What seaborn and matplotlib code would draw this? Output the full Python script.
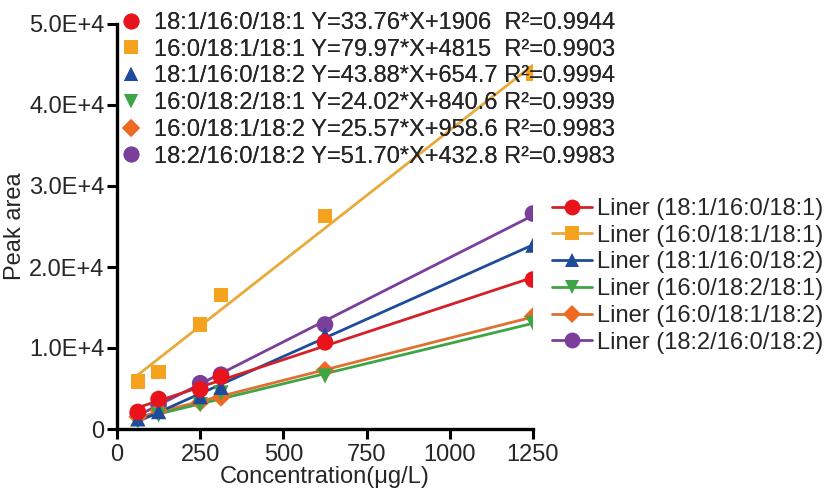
import matplotlib
matplotlib.use("Agg")
import matplotlib.pyplot as plt
import seaborn as sns
import numpy as np
import pandas as pd
from matplotlib.lines import Line2D
from matplotlib.ticker import FixedLocator, FixedFormatter

# ---------------- data ----------------
concentration = [62.5, 125, 250, 312.5, 625, 1250]
series_names = ["18:1/16:0/18:1", "16:0/18:1/18:1", "18:1/16:0/18:2",
                "16:0/18:2/18:1", "16:0/18:1/18:2", "18:2/16:0/18:2"]
tag_181_160_181 = [2100, 3700, 4900, 6450, 10700, 18450]
tag_160_181_181 = [5850, 7050, 12900, 16550, 26300, 43900]
tag_181_160_182 = [1250, 2150, 4000, 5150, 11600, 22700]
tag_160_182_181 = [1000, 1750, 3000, 4450, 6550, 13050]
tag_160_181_182 = [1500, 2300, 3300, 3900, 7250, 13900]
tag_182_160_182 = [1900, 3000, 5650, 6700, 12900, 26600]
equations = ["Y=33.76*X+1906  R\u00b2=0.9944",
             "Y=79.97*X+4815  R\u00b2=0.9903",
             "Y=43.88*X+654.7 R\u00b2=0.9994",
             "Y=24.02*X+840.6 R\u00b2=0.9939",
             "Y=25.57*X+958.6 R\u00b2=0.9983",
             "Y=51.70*X+432.8 R\u00b2=0.9983"]
x_ticks = [0, 250, 500, 750, 1000, 1250]
y_ticks = [0, 10000, 20000, 30000, 40000, 50000]
y_tick_labels = ["0", "1.0E+4", "2.0E+4", "3.0E+4", "4.0E+4", "5.0E+4"]

values = [tag_181_160_181, tag_160_181_181, tag_181_160_182,
          tag_160_182_181, tag_160_181_182, tag_182_160_182]

# ---------------- style ----------------
marker_colors = ["#E8131B", "#F5A21E", "#1E4C9A", "#3EA546", "#EE6A23", "#7A3E9B"]
line_colors = ["#D42027", "#E8AA3A", "#1E4C9A", "#3EA546", "#E07030", "#7A3E9B"]
markers = ["o", "s", "^", "v", "D", "o"]
msizes = [12, 10.5, 11, 11, 9.5, 12]

sns.set_theme(style="ticks")
plt.rcParams["font.family"] = ["Liberation Sans", "DejaVu Sans"]
FS = 17

fig = plt.figure(figsize=(8.29, 4.92), dpi=100)
ax = fig.add_axes([117 / 829, 1 - 429 / 492, 416 / 829, 405 / 492])

order = [5, 4, 3, 2, 1, 0]
for i in order:
    df = pd.DataFrame({"c": concentration, "a": values[i]})
    sns.regplot(data=df, x="c", y="a", ax=ax, ci=None, truncate=True,
                marker=markers[i],
                scatter_kws=dict(s=msizes[i] ** 2, color=marker_colors[i],
                                 edgecolors="none", alpha=1, zorder=4 - i * 0.1),
                line_kws=dict(color=line_colors[i], lw=2.0, zorder=2.5 - i * 0.1))

ax.set_xlim(0, 1250)
ax.set_ylim(0, 50000)
ax.xaxis.set_major_locator(FixedLocator(x_ticks))
ax.yaxis.set_major_locator(FixedLocator(y_ticks))
ax.yaxis.set_major_formatter(FixedFormatter(y_tick_labels))
ax.set_xlabel("Concentration(\u03bcg/L)", fontsize=FS, labelpad=0)
ax.set_ylabel("Peak area", fontsize=FS, labelpad=2)
ax.tick_params(axis="both", labelsize=FS, width=2.2, length=7, color="black",
               direction="out", pad=2)
ax.tick_params(axis="x", pad=4)
for s in ["top", "right"]:
    ax.spines[s].set_visible(False)
for s in ["left", "bottom"]:
    ax.spines[s].set_linewidth(2.4)
    ax.spines[s].set_color("black")

# equation legend (top-left, inside axes)
eq_handles = [Line2D([], [], ls="none", marker=markers[i], color=marker_colors[i],
                     markersize=msizes[i] * 0.95, markeredgewidth=0)
              for i in range(6)]
eq_labels = [f"{series_names[i]} {equations[i]}" for i in range(6)]
leg1 = ax.legend(eq_handles, eq_labels, loc="upper left",
                 bbox_to_anchor=(119 / 829, 1 - 12 / 492), bbox_transform=fig.transFigure,
                 frameon=False, fontsize=FS, handlelength=1.0, handletextpad=0.5,
                 labelspacing=0.2, borderpad=0, borderaxespad=0)
ax.add_artist(leg1)

# fit legend (right, outside axes)
fit_handles = [Line2D([], [], color=line_colors[i], lw=2.0, marker=markers[i],
                      markerfacecolor=marker_colors[i], markeredgewidth=0,
                      markersize=msizes[i] * 0.95)
               for i in range(6)]
fit_labels = [f"Liner ({n})" for n in series_names]
fig.legend(fit_handles, fit_labels, loc="upper left",
           bbox_to_anchor=(552 / 829, 1 - 198 / 492), frameon=False, fontsize=FS,
           handlelength=1.7, handletextpad=0.2, labelspacing=0.2,
           borderpad=0, borderaxespad=0)

fig.savefig("out.png", dpi=100)
